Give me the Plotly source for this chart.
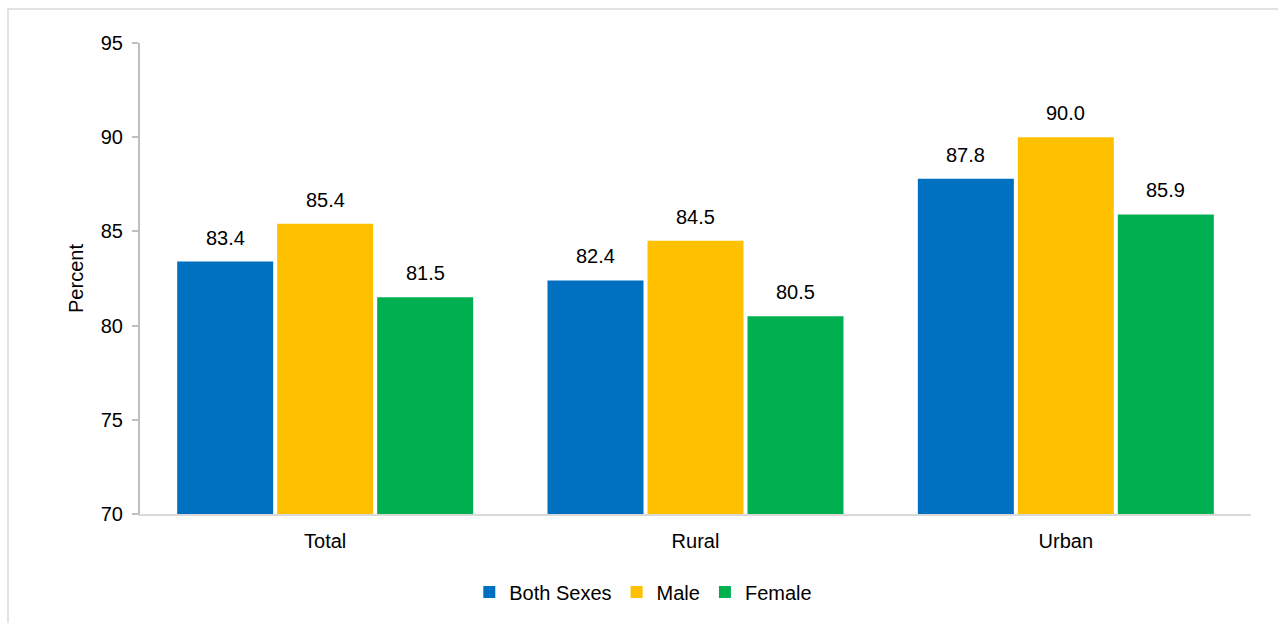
import plotly.graph_objects as go

# Categories and series values
areas = ["Total", "Rural", "Urban"]
both_sexes = [83.4, 82.4, 87.8]
male = [85.4, 84.5, 90.0]
female = [81.5, 80.5, 85.9]
y_ticks = [70, 75, 80, 85, 90, 95]

series = [
    ("Both Sexes", both_sexes, "#0070C0"),
    ("Male", male, "#FFC000"),
    ("Female", female, "#00B050"),
]

W, H = 1278, 623
M_L, M_R, M_T, M_B = 140, 27, 43, 109
FONT = "Liberation Sans, Arial, sans-serif"
FS = 20
BARGAP = 0.19

fig = go.Figure()
for name, vals, color in series:
    fig.add_trace(go.Bar(
        name=name,
        x=areas,
        y=vals,
        marker=dict(color=color, line=dict(width=0)),
    ))

# Value labels above each bar, placed at the bar's slot within its group
n = len(series)
slot = (1 - BARGAP) / n
for j, (name, vals, color) in enumerate(series):
    for i, v in enumerate(vals):
        fig.add_annotation(
            x=i + (j - (n - 1) / 2) * slot, y=v,
            xref="x", yref="y",
            text=f"{v:.1f}", showarrow=False,
            yanchor="bottom", yshift=11,
            font=dict(size=FS, color="#000000", family=FONT),
        )

# Light frame around the whole chart
pw = W - M_L - M_R
ph = H - M_T - M_B
fig.add_shape(
    type="rect", xref="paper", yref="paper",
    x0=(8 - M_L) / pw, x1=1 + (M_R + 10) / pw,
    y0=-(M_B + 10) / ph, y1=1 + (M_T - 9) / ph,
    line=dict(color="#D9D9D9", width=1.5), fillcolor="rgba(0,0,0,0)", layer="below",
)

fig.update_layout(
    width=W, height=H,
    margin=dict(l=M_L, r=M_R, t=M_T, b=M_B),
    paper_bgcolor="white",
    plot_bgcolor="white",
    barmode="group",
    bargap=BARGAP,
    bargroupgap=0.04,
    font=dict(family=FONT, size=FS, color="#000000"),
    showlegend=True,
    legend=dict(
        orientation="h", x=0.453, xanchor="center", y=-0.1656, yanchor="middle",
        font=dict(size=FS, family=FONT), itemwidth=30, traceorder="normal",
        itemclick=False,
    ),
    xaxis=dict(
        range=[-0.5, 2.5],
        showline=True, linecolor="#D9D9D9", linewidth=2,
        ticks="", showgrid=False, tickfont=dict(size=FS),
        ticklabelstandoff=8,
    ),
    yaxis=dict(
        range=[70, 95], tickvals=y_ticks,
        showline=True, linecolor="#BFBFBF", linewidth=2,
        ticks="outside", ticklen=6, tickcolor="#BFBFBF", tickwidth=1.5,
        showgrid=False, zeroline=False, tickfont=dict(size=FS),
        ticklabelstandoff=5,
        title=dict(text="Percent", font=dict(size=FS), standoff=12),
    ),
)

fig.write_html("out.html")
